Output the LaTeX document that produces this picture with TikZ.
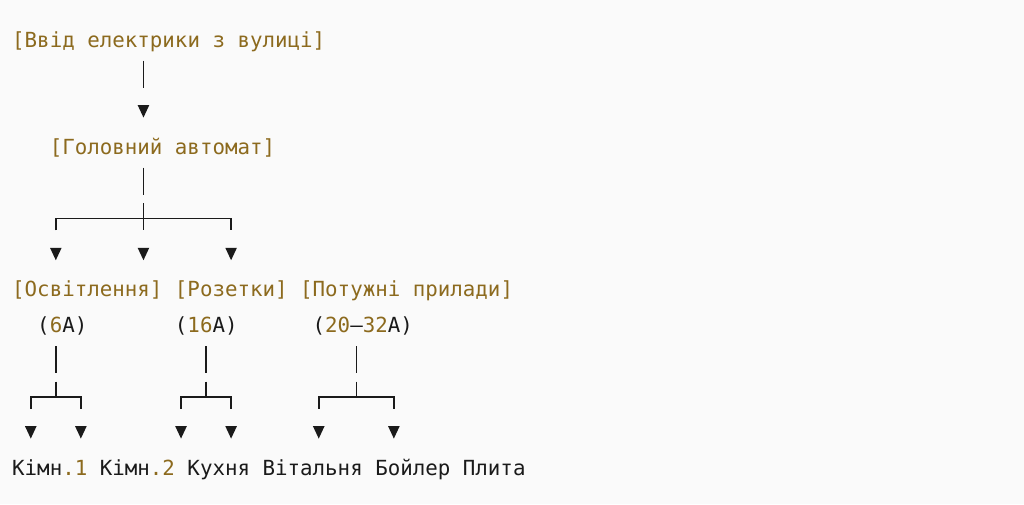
\documentclass[tikz,border=0pt]{standalone}
\usepackage{fontspec}
\setmonofont{DejaVu Sans Mono}
\usetikzlibrary{calc}

\definecolor{brass}{HTML}{8C6A1E}
\definecolor{ink}{HTML}{1A1A1A}
\definecolor{paper}{HTML}{FAFAFA}

\tikzset{
  lbl/.style={anchor=base west, inner sep=0pt, yshift=-7pt, text=ink,
    font=\ttfamily\fontsize{20.8pt}{25pt}\selectfont},
  hdr/.style={lbl, text=brass},
  wire/.style={draw=ink, line width=1.6pt},
}
\newcommand{\gold}[1]{\textcolor{brass}{#1}}
\newcommand{\downtip}[1]{\fill[ink] ($(#1)+(-5.8pt,6.2pt)$) -- ($(#1)+(5.8pt,6.2pt)$) -- ($(#1)+(0,-6.2pt)$) -- cycle;}
\newcommand{\stub}[1]{\draw[wire] ($(#1)+(0,15pt)$) -- ($(#1)+(0,-12pt)$);}

\begin{document}
\begin{tikzpicture}[x=12.52pt, y=-35.67pt]

\fill[paper] (-12pt,40pt) rectangle (1012pt,-464pt);
\useasboundingbox (-12pt,40pt) rectangle (1012pt,-464pt);

% labels
\node[hdr] (street) at (0,0) {[Ввід електрики з вулиці]};
\node[hdr] (main) at (3,3) {[Головний автомат]};

\node[hdr] (light) at (0,7) {[Освітлення]};
\node[hdr] (sockets) at (13,7) {[Розетки]};
\node[hdr] (heavy) at (23,7) {[Потужні прилади]};

\node[lbl] (lightA) at (2,8) {(\gold{6}A)};
\node[lbl] (socketsA) at (13,8) {(\gold{16}A)};
\node[lbl] (heavyA) at (24,8) {(\gold{20}–\gold{32}A)};

\node[lbl] (room1) at (0,12) {Кімн\gold{.1}};
\node[lbl] (room2) at (7,12) {Кімн\gold{.2}};
\node[lbl] (kitchen) at (14,12) {Кухня};
\node[lbl] (hall) at (20,12) {Вітальня};
\node[lbl] (boiler) at (29,12) {Бойлер};
\node[lbl] (stove) at (36,12) {Плита};


\coordinate (M) at (10.5,0);

\coordinate (M1) at ($(M) + 1*(0,1)$);
\coordinate (M2) at ($(M) + 2*(0,1)$);
\coordinate (M4) at ($(M) + 4*(0,1)$);
\coordinate (M5) at ($(M) + 5*(0,1)$);
\coordinate (M6) at ($(M) + 6*(0,1)$);

\coordinate (L5) at ($(M5) + (-7,0)$);
\coordinate (R5) at ($(M5) + (7,0)$);
\coordinate (L6) at ($(M6) + (-7,0)$);
\coordinate (R6) at ($(M6) + (7,0)$);


\coordinate (A9) at (3.5,9);
\coordinate (B9) at (15.5,9);
\coordinate (C9) at (27.5,9);

\coordinate (A10) at ($(A9) + (0,1)$);
\coordinate (B10) at ($(B9) + (0,1)$);
\coordinate (C10) at ($(C9) + (0,1)$);

\coordinate (A1) at ($(A10) + (-2,0)$);
\coordinate (A2) at ($(A10) + (2,0)$);
\coordinate (B1) at ($(B10) + (-2,0)$);
\coordinate (B2) at ($(B10) + (2,0)$);
\coordinate (C1) at ($(C10) + (-3,0)$);
\coordinate (C2) at ($(C10) + (3,0)$);


\stub{M1}
\stub{M4}

\draw[wire] ($(L5)+(0,-12pt)$) -- (L5) -- (R5) -- ($(R5)+(0,-12pt)$);
\stub{M5}

\stub{A9}
\stub{B9}
\stub{C9}

\draw[wire] ($(A1)+(0,-12pt)$) -- (A1) -- (A2) -- ($(A2)+(0,-12pt)$);
\draw[wire] ($(B1)+(0,-12pt)$) -- (B1) -- (B2) -- ($(B2)+(0,-12pt)$);
\draw[wire] ($(C1)+(0,-12pt)$) -- (C1) -- (C2) -- ($(C2)+(0,-12pt)$);
\draw[wire] ($(A10)+(0,15pt)$) -- (A10);
\draw[wire] ($(B10)+(0,15pt)$) -- (B10);
\draw[wire] ($(C10)+(0,15pt)$) -- (C10);

\downtip{M2}
\downtip{L6}
\downtip{M6}
\downtip{R6}

\downtip{$(A1)+(0,1)$}
\downtip{$(A2)+(0,1)$}
\downtip{$(B1)+(0,1)$}
\downtip{$(B2)+(0,1)$}
\downtip{$(C1)+(0,1)$}
\downtip{$(C2)+(0,1)$}

\end{tikzpicture}
\end{document}
